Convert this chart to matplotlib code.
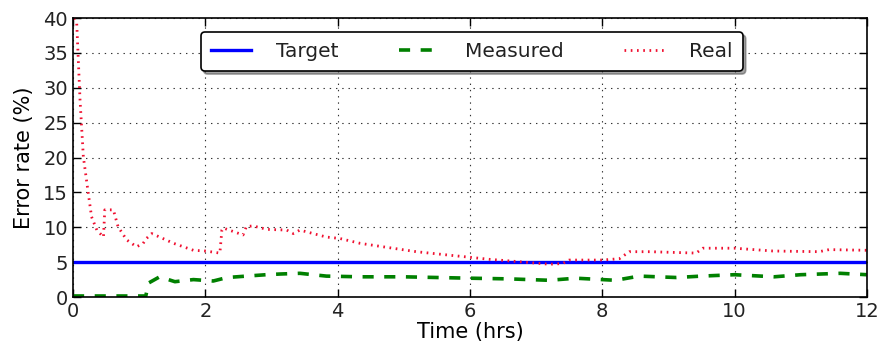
import matplotlib
matplotlib.use("Agg")
import matplotlib.pyplot as plt

# Error rate over time (hours)
target_t = [0, 12]
target_v = [5, 5]

measured_t = [0.0, 0.3, 0.6, 0.9, 1.10, 1.14, 1.31, 1.54, 1.82, 2.12, 2.33, 2.62, 2.92, 3.13,
              3.43, 3.83, 4.34, 5.0, 5.5, 6.0, 6.6, 7.2, 7.6, 8.2, 8.56, 9.12, 9.5, 10.0,
              10.6, 11.0, 11.6, 12.0]
measured_v = [0.15, 0.15, 0.15, 0.15, 0.15, 2.0, 2.9, 2.2, 2.5, 2.3, 2.8, 3.0, 3.2, 3.3,
              3.4, 3.0, 2.9, 2.9, 2.8, 2.7, 2.6, 2.4, 2.7, 2.4, 3.0, 2.8, 3.0, 3.2,
              2.9, 3.2, 3.4, 3.2]

real_t = [0.02, 0.056, 0.106, 0.156, 0.23, 0.28, 0.36, 0.46, 0.48, 0.61, 0.68, 0.81, 0.96,
          1.06, 1.11, 1.19, 1.31, 1.52, 1.82, 2.0, 2.22, 2.25, 2.27, 2.42, 2.57, 2.62, 2.72,
          2.93, 3.23, 3.33, 3.43, 3.63, 3.83, 4.03, 4.34, 4.69, 5.19, 5.69, 6.0, 6.3, 6.7,
          7.2, 7.4, 7.5, 8.0, 8.26, 8.41, 8.72, 9.42, 9.52, 10.0, 10.58, 11.28, 11.43, 12.0]
real_v = [40.0, 39.2, 28.2, 20.1, 14.9, 11.5, 9.6, 8.6, 12.5, 12.5, 10.1, 8.2, 7.2,
          7.7, 8.4, 9.1, 8.6, 7.7, 6.7, 6.6, 6.3, 9.6, 9.9, 9.4, 8.9, 10.1, 10.2,
          9.7, 9.6, 9.1, 9.6, 9.1, 8.6, 8.4, 7.7, 7.2, 6.5, 6.0, 5.7, 5.4, 5.1,
          4.7, 4.8, 5.3, 5.3, 5.5, 6.5, 6.5, 6.3, 7.0, 7.0, 6.6, 6.5, 6.8, 6.7]

x_ticks = [0, 2, 4, 6, 8, 10, 12]
y_ticks = [0, 5, 10, 15, 20, 25, 30, 35, 40]

plt.rcParams['font.family'] = ['DejaVu Sans']
plt.rcParams['xtick.direction'] = 'in'
plt.rcParams['ytick.direction'] = 'in'
plt.rcParams['lines.scale_dashes'] = False
plt.rcParams['text.color'] = '#222222'
plt.rcParams['xtick.labelcolor'] = '#222222'
plt.rcParams['ytick.labelcolor'] = '#222222'

fig = plt.figure(figsize=(8.8, 3.47), dpi=100)
ax = fig.add_axes([0.083, 0.144, 0.902, 0.804])

ax.plot(target_t, target_v, color='#0000ff', lw=2.4, ls='-', label='Target')
ax.plot(measured_t, measured_v, color='#008000', lw=2.6, ls=(0, (8, 7.6)),
        dash_capstyle='butt', label='Measured')
ax.plot(real_t, real_v, color='#f01030', lw=2.0, ls=(0, (1.2, 3.3)),
        dash_capstyle='butt', label='Real')

ax.set_xlim(0, 12)
ax.set_ylim(0, 40)
ax.set_xticks(x_ticks)
ax.set_yticks(y_ticks)
ax.tick_params(top=True, right=True, labelsize=14, length=5.5, width=1)
ax.grid(True, color='#333333', ls=(0, (1, 3.5)), lw=0.8)
for s in ax.spines.values():
    s.set_linewidth(1.2)

ax.set_xlabel('Time (hrs)', fontsize=15, labelpad=1)
ax.set_ylabel('Error rate (%)', fontsize=15, labelpad=6.5)

leg = ax.legend(loc='upper center', bbox_to_anchor=(0.5025, 1.0), borderaxespad=0.7,
                ncol=3, fontsize=14.5, fancybox=True, shadow=True, framealpha=1,
                edgecolor='black', handlelength=2, handletextpad=1.25,
                columnspacing=3.0, borderpad=0.5)
leg.get_frame().set_linewidth(1.2)

fig.savefig('out.png', dpi=100)
